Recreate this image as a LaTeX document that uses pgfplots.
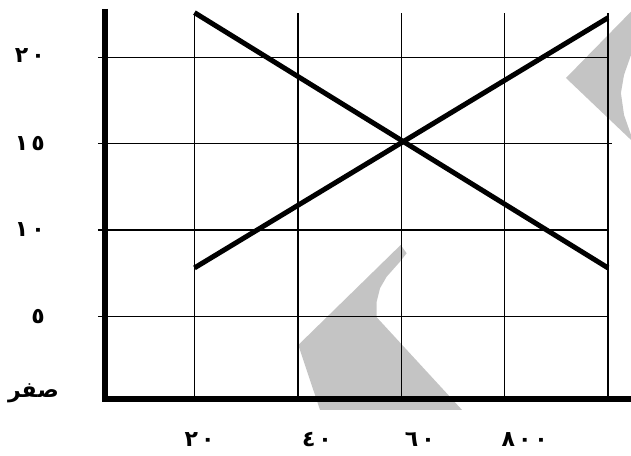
\documentclass[border=0pt]{standalone}
\usepackage{pgfplots}
\pgfplotsset{compat=1.18}
\usepackage{fontspec}
\setmainfont{DejaVu Sans}
\TeXXeTstate=1
\newfontfamily\arabicfont[Script=Arabic]{DejaVu Sans}
\definecolor{shade}{gray}{0.77}
\newcommand{\dg}{\hspace{3pt}}
\begin{document}
\begin{tikzpicture}
\begin{axis}[
  scale only axis, width=526pt, height=390pt,
  xmin=2.69, xmax=104.45, ymin=0.2, ymax=22.81,
  axis lines=left, axis line style={draw=none},
  clip=false,
  xtick={21,43.7,63.6,83.9},
  xticklabels={٢\dg٠,٤\dg٠,٦\dg٠,\raisebox{-8pt}{٨\dg٠\dg٠}},
  ytick={5,10,15,20},
  yticklabels={٥,١\dg٠,١\dg٥,\raisebox{4pt}{٢\dg٠}},
  major tick length=0pt,
  xticklabel style={anchor=center, inner sep=0pt, yshift=-41pt, font=\arabicfont\bfseries\fontsize{22}{26}\selectfont},
  yticklabel style={anchor=east, inner sep=0pt, xshift=-60pt, font=\arabicfont\bfseries\fontsize{22}{26}\selectfont},
]
\coordinate (sw) at (rel axis cs:0,0);
\coordinate (ne) at (rel axis cs:1,1);
% decorative shaded shapes
\addplot[fill=shade, draw=none] coordinates {
 (59.89,9.13) (61.05,8.65) (59.76,8.16) (57.18,7.29) (55.89,6.62)
 (55.25,5.84) (55.25,4.94) (71.75,-0.43) (44.28,-0.43) (40.08,3.33) (59.89,9.13)};
\addplot[fill=shade, draw=none] coordinates {
 (91.87,18.81) (104.45,22.66) (104.45,20.14) (103.1,18.99) (102.5,17.94)
 (103.1,16.67) (104.45,15.51) (104.45,15.22) (91.87,18.81)};
% grid
\addplot[line width=1.3pt] coordinates {(1.33,5)(100,5)};
\addplot[line width=1.3pt] coordinates {(1.33,10)(100,10)};
\addplot[line width=1.3pt] coordinates {(1.33,15)(100.8,15)};
\addplot[line width=1.3pt] coordinates {(1.33,20)(100,20)};
\addplot[line width=1.3pt] coordinates {(20,0.2)(20,22.6)};
\addplot[line width=1.3pt] coordinates {(40,0.2)(40,22.6)};
\addplot[line width=1.3pt] coordinates {(60,0.2)(60,22.6)};
\addplot[line width=1.3pt] coordinates {(80,0.2)(80,22.6)};
\addplot[line width=1.3pt] coordinates {(100,0.2)(100,22.6)};
% axes
\addplot[line width=6.5pt] coordinates {(2.69,22.81)(2.69,0.2)(104.45,0.2)};
% data lines
\addplot[line width=5pt] coordinates {(20,22.6)(100,7.8)};
\addplot[line width=5pt] coordinates {(20,7.8)(100,22.3)};
\node[anchor=east, inner sep=0pt, font=\arabicfont\bfseries\fontsize{22}{26}\selectfont]
  at ([xshift=-46pt]axis cs:2.69,0.55) {\beginR صفر\endR};
\end{axis}
\pgfresetboundingbox
\useasboundingbox ([xshift=-105pt,yshift=-56pt]sw) rectangle ([yshift=9pt]ne);
\end{tikzpicture}
\end{document}
